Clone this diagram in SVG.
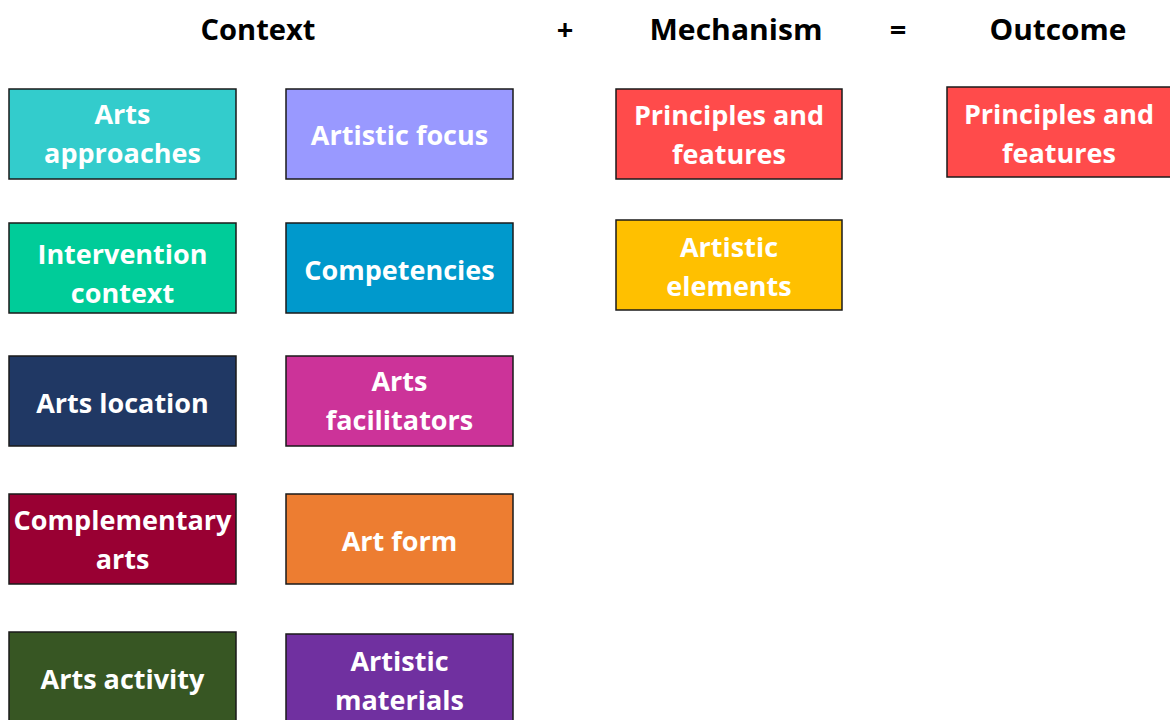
<svg xmlns="http://www.w3.org/2000/svg" width="1170" height="720" viewBox="0 0 1170 720">
<style>
.box{stroke:#1a1a1a;stroke-width:1.5}
.t{font-family:"Open Sans","DejaVu Sans",sans-serif;font-weight:bold;font-size:27px;fill:#ffffff;text-anchor:middle}
.h{font-family:"Open Sans","Liberation Sans",sans-serif;font-weight:bold;font-size:29px;fill:#000000;text-anchor:middle}
</style>
<rect width="1170" height="720" fill="#ffffff"/>
<g id="headers">
<text class="h" x="258" y="40" textLength="115" lengthAdjust="spacingAndGlyphs">Context</text>
<text class="h" x="565" y="40">+</text>
<text class="h" x="736" y="40" textLength="173" lengthAdjust="spacingAndGlyphs">Mechanism</text>
<text class="h" x="898" y="40">=</text>
<text class="h" x="1058" y="40" textLength="137" lengthAdjust="spacingAndGlyphs">Outcome</text>
</g>
<g id="connectors"></g>
<g id="arts-approaches"><rect class="box" x="9" y="89" width="227" height="90" fill="#33CCCC"/><text class="t" x="122.5" y="124">Arts</text><text class="t" x="122.5" y="163">approaches</text></g>
<g id="artistic-focus"><rect class="box" x="286" y="89" width="227" height="90" fill="#9999FF"/><text class="t" x="399.5" y="145">Artistic focus</text></g>
<g id="intervention-context"><rect class="box" x="9" y="223" width="227" height="90" fill="#00CC99"/><text class="t" x="122.5" y="264">Intervention</text><text class="t" x="122.5" y="303">context</text></g>
<g id="competencies"><rect class="box" x="286" y="223" width="227" height="90" fill="#0099CC"/><text class="t" x="399.5" y="280">Competencies</text></g>
<g id="arts-location"><rect class="box" x="9" y="356" width="227" height="90" fill="#203864"/><text class="t" x="122.5" y="413">Arts location</text></g>
<g id="arts-facilitators"><rect class="box" x="286" y="356" width="227" height="90" fill="#CC3399"/><text class="t" x="399.5" y="391">Arts</text><text class="t" x="399.5" y="430">facilitators</text></g>
<g id="complementary-arts"><rect class="box" x="9" y="494" width="227" height="90" fill="#990033"/><text class="t" x="122.5" y="530" textLength="218" lengthAdjust="spacingAndGlyphs">Complementary</text><text class="t" x="122.5" y="569">arts</text></g>
<g id="art-form"><rect class="box" x="286" y="494" width="227" height="90" fill="#ED7D31"/><text class="t" x="399.5" y="551">Art form</text></g>
<g id="arts-activity"><rect class="box" x="9" y="632" width="227" height="90" fill="#375623"/><text class="t" x="122.5" y="689">Arts activity</text></g>
<g id="artistic-materials"><rect class="box" x="286" y="634" width="227" height="90" fill="#7030A0"/><text class="t" x="399.5" y="671">Artistic</text><text class="t" x="399.5" y="710">materials</text></g>
<g id="mech-principles"><rect class="box" x="616" y="89" width="226" height="90" fill="#FF4B4B"/><text class="t" x="729" y="125">Principles and</text><text class="t" x="729" y="164">features</text></g>
<g id="artistic-elements"><rect class="box" x="616" y="220" width="226" height="90" fill="#FFC000"/><text class="t" x="729" y="257">Artistic</text><text class="t" x="729" y="296">elements</text></g>
<g id="outcome-principles"><rect class="box" x="947" y="87" width="226" height="90" fill="#FF4B4B"/><text class="t" x="1059" y="124">Principles and</text><text class="t" x="1059" y="163">features</text></g>
</svg>
